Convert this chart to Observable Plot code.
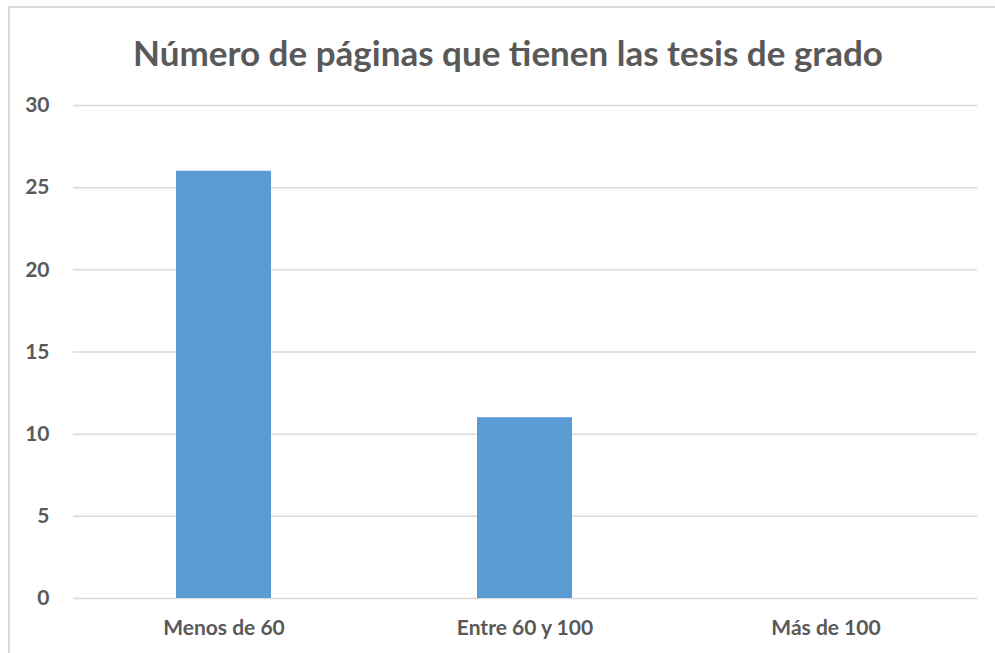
<!DOCTYPE html>
<html>
<head>
<meta charset="utf-8">
<script src="https://cdn.jsdelivr.net/npm/d3@7"></script>
<script src="https://cdn.jsdelivr.net/npm/@observablehq/plot@0.6"></script>
<style>
  html, body { margin: 0; padding: 0; background: #fff; overflow: hidden; }
  #frame { position: absolute; left: 8px; top: 6px; width: 1100px; height: 700px;
           border-top: 2px solid #d9d9d9; border-left: 2px solid #d9d9d9; }
  #title { position: absolute; left: 0; top: 31px; width: 1016px; text-align: center;
           font-family: Lato, sans-serif; font-weight: bold; font-size: 35px; color: #595959; }
  #chart { position: absolute; left: 0; top: 0; }
</style>
</head>
<body>
<div id="frame"></div>
<div id="title">Número de páginas que tienen las tesis de grado</div>
<div id="chart"></div>
<script>
const categories = ["Menos de 60", "Entre 60 y 100", "Más de 100"];
const values = [26, 11, 0];
const yTicks = [0, 5, 10, 15, 20, 25, 30];

const data = categories.map((c, i) => ({category: c, value: values[i]}));

const plot = Plot.plot({
  width: 995,
  height: 653,
  marginLeft: 73,
  marginRight: 18,
  marginTop: 105,
  marginBottom: 55,
  style: {fontFamily: "Lato, sans-serif", fontWeight: "bold", fontSize: "21px", color: "#595959", background: "transparent"},
  x: {domain: categories, paddingInner: 0.684, paddingOuter: 0.342, label: null, tickSize: 0, tickPadding: 22},
  y: {domain: [0, 30], ticks: yTicks, label: null, tickSize: 0, tickPadding: 24},
  marks: [
    Plot.ruleY(yTicks, {stroke: "#d9d9d9", strokeWidth: 1.5}),
    Plot.barY(data, {x: "category", y: "value", fill: "#5B9BD5"})
  ]
});
document.getElementById("chart").appendChild(plot);
</script>
</body>
</html>
